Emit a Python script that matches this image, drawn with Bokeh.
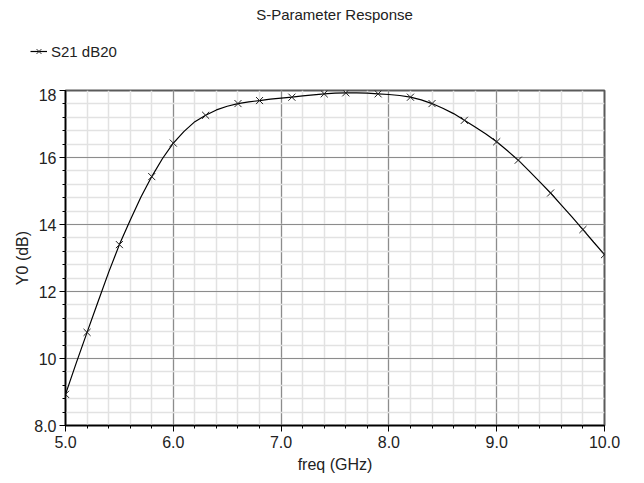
from bokeh.plotting import figure
from bokeh.layouts import column
from bokeh.models import (Range1d, SingleIntervalTicker, CustomJSTickFormatter,
                          Legend, LegendItem, Label)
from bokeh.embed import file_html
from bokeh.resources import INLINE

# Curve samples (GHz, dB)
freq = [5.0, 5.1, 5.2, 5.3, 5.4, 5.5, 5.6, 5.7, 5.8, 5.9,
        6.0, 6.1, 6.2, 6.3, 6.4, 6.5, 6.6, 6.7, 6.8, 6.9,
        7.0, 7.1, 7.2, 7.3, 7.4, 7.5, 7.6, 7.7, 7.8, 7.9,
        8.0, 8.1, 8.2, 8.3, 8.4, 8.5, 8.6, 8.7, 8.8, 8.9,
        9.0, 9.1, 9.2, 9.3, 9.4, 9.5, 9.6, 9.7, 9.8, 9.9, 10.0]
s21_db = [8.93, 9.87, 10.78, 11.68, 12.57, 13.40, 14.13, 14.82, 15.43, 15.97,
          16.43, 16.78, 17.07, 17.26, 17.42, 17.53, 17.61, 17.66, 17.70, 17.74,
          17.77, 17.80, 17.84, 17.87, 17.90, 17.92, 17.93, 17.93, 17.92, 17.90,
          17.88, 17.85, 17.80, 17.72, 17.61, 17.47, 17.31, 17.11, 16.91, 16.70,
          16.47, 16.20, 15.92, 15.60, 15.27, 14.94, 14.58, 14.22, 13.85, 13.47, 13.10]

# Marker positions
marker_freq = [5.0, 5.2, 5.5, 5.8, 6.0, 6.3, 6.6, 6.8, 7.1, 7.4,
               7.6, 7.9, 8.2, 8.4, 8.7, 9.0, 9.2, 9.5, 9.8, 10.0]
marker_db = [8.93, 10.78, 13.40, 15.43, 16.43, 17.26, 17.61, 17.70, 17.80, 17.90,
             17.93, 17.90, 17.80, 17.61, 17.11, 16.47, 15.92, 14.94, 13.85, 13.10]

title_text = "S-Parameter Response"
series_name = "S21 dB20"
x_label = "freq (GHz)"
y_label = "Y0 (dB)"

FONT = "Liberation Sans"
W = 636
TOP_H = 88

# ---- header strip (title + legend) ----
head = figure(width=W, height=TOP_H, output_backend="svg", toolbar_location=None,
              x_axis_type=None, y_axis_type=None,
              x_range=Range1d(0, 1), y_range=Range1d(0, 1),
              min_border_left=0, min_border_right=0, min_border_top=0, min_border_bottom=0)
head.frame_align = False
head.outline_line_color = None
head.grid.visible = False
head.background_fill_color = "white"
head.border_fill_color = "white"

title = Label(x=334, y=TOP_H - 14, x_units="screen", y_units="screen", text=title_text,
              text_align="center", text_baseline="middle",
              text_font=FONT, text_font_size="15px", text_color="#222222")
head.add_layout(title)

# series copies that lie outside this strip's ranges: only their legend key is seen
key_line = head.line(freq, s21_db, line_color="black", line_width=1.2)
key_mark = head.scatter(marker_freq, marker_db, marker="x", size=10,
                        line_color="#222222", line_width=1)
legend = Legend(items=[LegendItem(label=series_name, renderers=[key_line, key_mark])],
                location=(30, 26), orientation="horizontal",
                border_line_alpha=0, background_fill_alpha=0,
                padding=0, margin=0, spacing=0,
                glyph_width=17, glyph_height=22, label_standoff=4,
                label_text_font=FONT, label_text_font_size="15px",
                label_text_color="#222222")
head.add_layout(legend, "center")

# ---- main chart ----
p = figure(width=W, height=475 - TOP_H, output_backend="svg", toolbar_location=None,
           x_range=Range1d(5.0, 10.0), y_range=Range1d(8.0, 18.0),
           min_border_left=65, min_border_right=32, min_border_top=2, min_border_bottom=48)
p.frame_align = False
p.background_fill_color = "white"
p.border_fill_color = "white"
p.outline_line_color = "#5a5a5a"
p.outline_line_width = 2

p.xaxis.ticker = SingleIntervalTicker(interval=1.0, num_minor_ticks=5)
p.yaxis.ticker = SingleIntervalTicker(interval=2.0, num_minor_ticks=5)
p.xaxis.formatter = CustomJSTickFormatter(code="return tick.toFixed(1);")
p.yaxis.formatter = CustomJSTickFormatter(code="return tick < 9 ? tick.toFixed(1) : tick.toFixed(0);")

for ax in (p.xaxis[0], p.yaxis[0]):
    ax.axis_line_color = "black"
    ax.axis_line_width = 1.5
    ax.major_tick_line_color = "black"
    ax.minor_tick_line_color = "black"
    ax.major_tick_out = 6
    ax.major_tick_in = 0
    ax.minor_tick_out = 3
    ax.minor_tick_in = 0
    ax.major_label_text_font = FONT
    ax.major_label_text_font_size = "16px"
    ax.major_label_text_color = "#222222"
    ax.axis_label_text_font = FONT
    ax.axis_label_text_font_size = "16px"
    ax.axis_label_text_font_style = "normal"
    ax.axis_label_text_color = "#222222"

p.xaxis.axis_label = x_label
p.yaxis.axis_label = y_label
p.xaxis.major_label_standoff = 4
p.xaxis.axis_label_standoff = 5
p.yaxis.major_label_standoff = 3
p.yaxis.axis_label_standoff = 0

p.xgrid.grid_line_color = "#8c8c8c"
p.ygrid.grid_line_color = "#8c8c8c"
p.xgrid.grid_line_width = 1.2
p.ygrid.grid_line_width = 1.2
p.xgrid.minor_grid_line_color = "#e2e2e2"
p.ygrid.minor_grid_line_color = "#e2e2e2"
p.xgrid.minor_grid_line_width = 1.5
p.ygrid.minor_grid_line_width = 1.5
p.xgrid.level = "underlay"
p.ygrid.level = "underlay"

p.line(freq, s21_db, line_color="black", line_width=1.2)
p.scatter(marker_freq, marker_db, marker="x", size=10, line_color="#222222", line_width=1)

layout = column(head, p, spacing=0)
open("out.html", "w").write(file_html(layout, INLINE))
